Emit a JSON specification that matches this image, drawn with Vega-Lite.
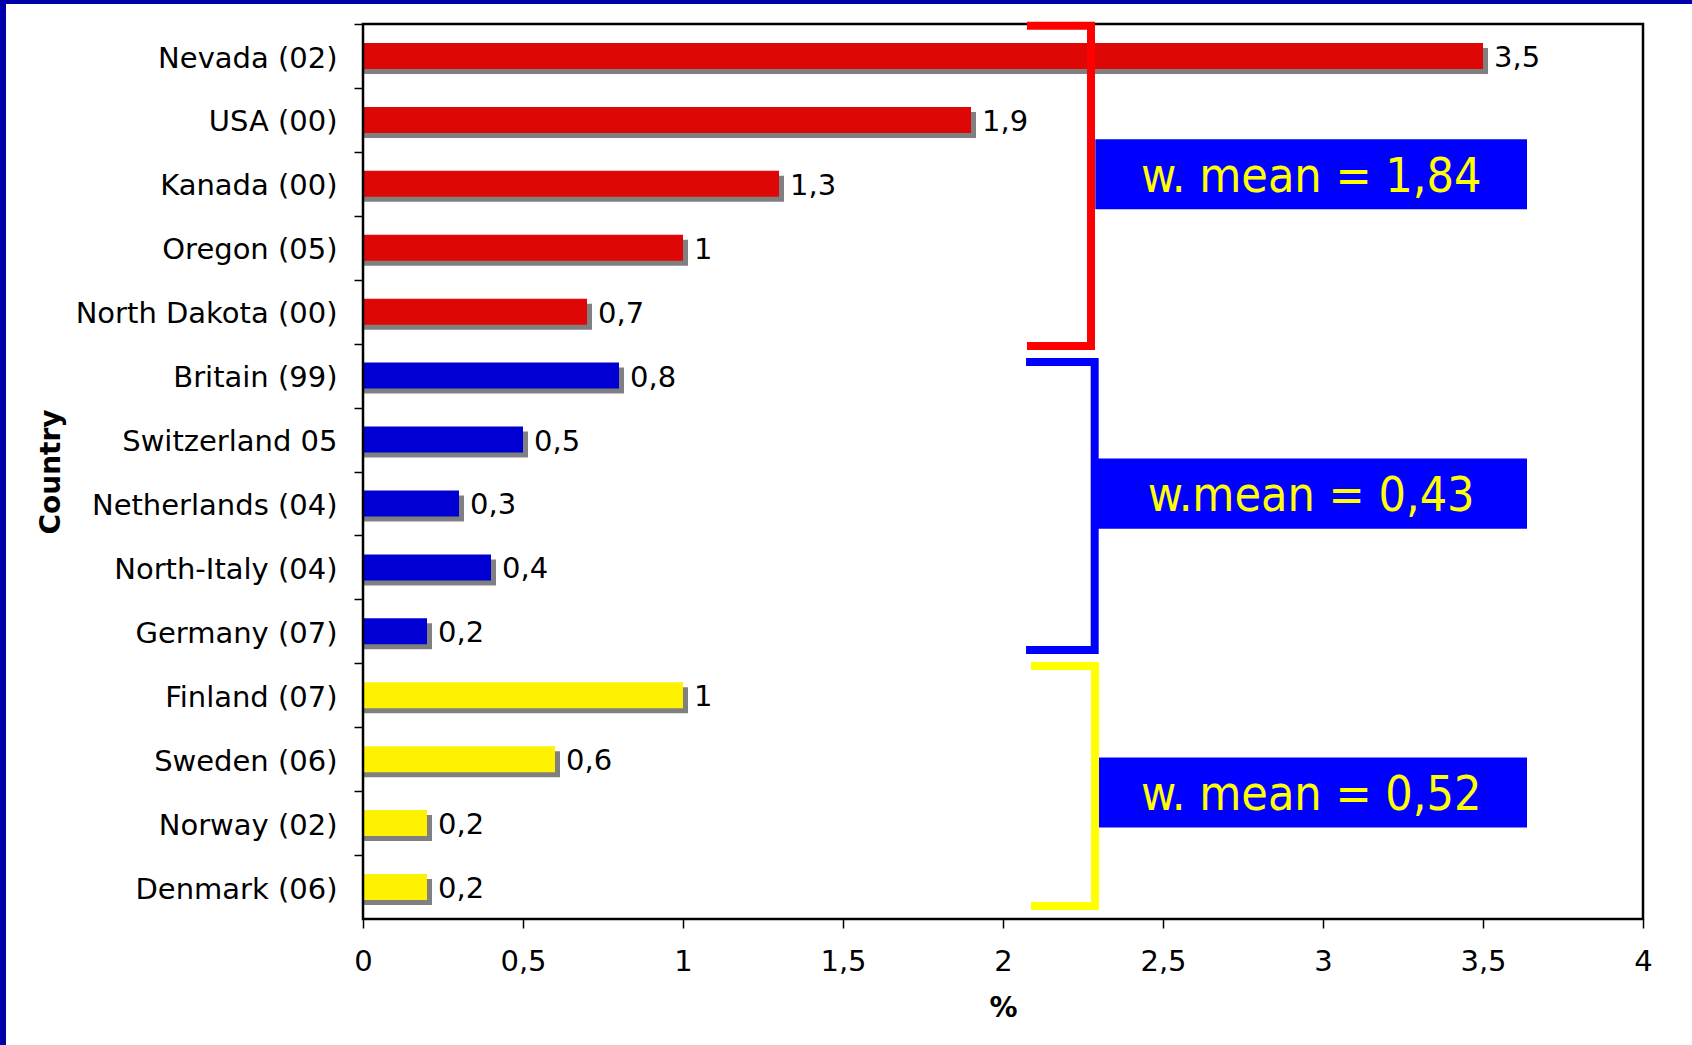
{
  "$schema": "https://vega.github.io/schema/vega-lite/v6.json",
  "autosize": {"type": "none"},
  "width": 1280,
  "height": 895,
  "padding": {"left": 363, "top": 24, "right": 49, "bottom": 126},
  "background": "#0000AA",
  "config": {
    "view": {"stroke": null},
    "locale": {
      "number": {"decimal": ",", "thousands": ".", "grouping": [3], "currency": ["", " €"]}
    },
    "axis": {
      "grid": false,
      "domain": false,
      "labelFont": "DejaVu Sans",
      "labelFontSize": 29,
      "labelColor": "black",
      "labelFlush": false,
      "titleFont": "DejaVu Sans",
      "titleFontSize": 28,
      "titleFontWeight": "bold",
      "titleColor": "black",
      "tickColor": "black",
      "tickWidth": 1.5,
      "tickSize": 9
    },
    "axisX": {
      "labelPadding": 33,
      "labelBaseline": "middle",
      "titleY": 89,
      "titleBaseline": "middle"
    },
    "text": {"font": "DejaVu Sans"}
  },
  "datasets": {
    "rates": [
      {"country": "Nevada (02)", "value": 3.5, "group": "NA"},
      {"country": "USA (00)", "value": 1.9, "group": "NA"},
      {"country": "Kanada (00)", "value": 1.3, "group": "NA"},
      {"country": "Oregon (05)", "value": 1, "group": "NA"},
      {"country": "North Dakota (00)", "value": 0.7, "group": "NA"},
      {"country": "Britain (99)", "value": 0.8, "group": "EU"},
      {"country": "Switzerland 05", "value": 0.5, "group": "EU"},
      {"country": "Netherlands (04)", "value": 0.3, "group": "EU"},
      {"country": "North-Italy (04)", "value": 0.4, "group": "EU"},
      {"country": "Germany (07)", "value": 0.2, "group": "EU"},
      {"country": "Finland (07)", "value": 1, "group": "Nordic"},
      {"country": "Sweden (06)", "value": 0.6, "group": "Nordic"},
      {"country": "Norway (02)", "value": 0.2, "group": "Nordic"},
      {"country": "Denmark (06)", "value": 0.2, "group": "Nordic"}
    ],
    "means": [
      {"x": 2.2885, "x2": 3.6375, "y": 1.802, "y2": 2.898, "tx": 2.963, "ty": 2.41, "label": "w. mean = 1,84"},
      {"x": 2.2885, "x2": 3.6375, "y": 6.798, "y2": 7.895, "tx": 2.963, "ty": 7.40, "label": "w.mean = 0,43"},
      {"x": 2.295, "x2": 3.6375, "y": 11.474, "y2": 12.57, "tx": 2.963, "ty": 12.08, "label": "w. mean = 0,52"}
    ],
    "brackets": [
      {"grp": "NA", "i": 0, "x": 2.075, "y": 0.027},
      {"grp": "NA", "i": 1, "x": 2.275, "y": 0.027},
      {"grp": "NA", "i": 2, "x": 2.275, "y": 5.037},
      {"grp": "NA", "i": 3, "x": 2.075, "y": 5.037},
      {"grp": "EU", "i": 0, "x": 2.072, "y": 5.287},
      {"grp": "EU", "i": 1, "x": 2.2865, "y": 5.287},
      {"grp": "EU", "i": 2, "x": 2.2865, "y": 9.792},
      {"grp": "EU", "i": 3, "x": 2.072, "y": 9.792},
      {"grp": "Nordic", "i": 0, "x": 2.0875, "y": 10.042},
      {"grp": "Nordic", "i": 1, "x": 2.2875, "y": 10.042},
      {"grp": "Nordic", "i": 2, "x": 2.2875, "y": 13.796},
      {"grp": "Nordic", "i": 3, "x": 2.0875, "y": 13.796}
    ]
  },
  "resolve": {"scale": {"y": "independent"}, "axis": {"y": "independent"}},
  "layer": [
    {
      "data": {"values": [{"x": -1.115625, "x2": 5, "y": -0.3128, "y2": 20}]},
      "mark": {"type": "rect", "fill": "white", "strokeWidth": 0},
      "encoding": {
        "x": {"field": "x", "type": "quantitative", "scale": {"domain": [0, 4], "nice": false, "zero": true},
              "axis": {"title": "%", "zindex": 2, "values": [0, 0.5, 1, 1.5, 2, 2.5, 3, 3.5, 4], "format": ".1~f"}},
        "x2": {"field": "x2"},
        "y": {"field": "y", "type": "quantitative", "scale": {"domain": [0, 14], "reverse": true, "nice": false, "zero": false}, "axis": null},
        "y2": {"field": "y2"}
      }
    },
    {
      "data": {"name": "rates"},
      "encoding": {
        "y": {
          "field": "country", "type": "nominal", "sort": null,
          "scale": {"paddingInner": 0.593, "paddingOuter": 0.2965},
          "axis": {
            "title": "Country",
            "zindex": 2,
            "tickOffset": -31.964,
            "labelOffset": 34,
            "labelPadding": 17,
            "labelLimit": 400,
            "titleX": -312,
            "titleY": 447.5,
            "titleAngle": 270,
            "titleAlign": "center",
            "titleBaseline": "middle"
          }
        }
      },
      "layer": [
        {
          "mark": {"type": "bar", "color": "#808080", "xOffset": 5, "x2Offset": 5, "yOffset": 5},
          "encoding": {
            "x": {"field": "value", "type": "quantitative", "stack": null, "scale": {"domain": [0, 4], "nice": false, "zero": true},
                  "axis": {"title": "%", "zindex": 2, "values": [0, 0.5, 1, 1.5, 2, 2.5, 3, 3.5, 4], "format": ".1~f"}}
          }
        },
        {
          "mark": {"type": "bar"},
          "encoding": {
            "x": {"field": "value", "type": "quantitative", "stack": null, "scale": {"domain": [0, 4], "nice": false, "zero": true},
                  "axis": {"title": "%", "zindex": 2, "values": [0, 0.5, 1, 1.5, 2, 2.5, 3, 3.5, 4], "format": ".1~f"}},
            "color": {
              "field": "group", "type": "nominal",
              "scale": {"domain": ["NA", "EU", "Nordic"], "range": ["#DD0806", "#0000D4", "#FFF200"]},
              "legend": null
            }
          }
        },
        {
          "mark": {"type": "text", "align": "left", "baseline": "middle", "dx": 11, "dy": 2, "fontSize": 29, "color": "black"},
          "encoding": {
            "x": {"field": "value", "type": "quantitative", "scale": {"domain": [0, 4], "nice": false, "zero": true},
                  "axis": {"title": "%", "zindex": 2, "values": [0, 0.5, 1, 1.5, 2, 2.5, 3, 3.5, 4], "format": ".1~f"}},
            "text": {"field": "value", "type": "quantitative", "format": ".1~f"}
          }
        }
      ]
    },
    {
      "encoding": {
        "y": {"type": "quantitative", "scale": {"domain": [0, 14], "reverse": true, "nice": false, "zero": false}, "axis": null}
      },
      "layer": [
        {
          "data": {"values": [{"x": 0, "x2": 4, "y": 0, "y2": 14}]},
          "mark": {"type": "rect", "filled": false, "stroke": "black", "strokeWidth": 2.5},
          "encoding": {
            "x": {"field": "x", "type": "quantitative", "scale": {"domain": [0, 4], "nice": false, "zero": true},
                  "axis": {"title": "%", "zindex": 2, "values": [0, 0.5, 1, 1.5, 2, 2.5, 3, 3.5, 4], "format": ".1~f"}},
            "x2": {"field": "x2"},
            "y": {"field": "y", "type": "quantitative", "scale": {"domain": [0, 14], "reverse": true, "nice": false, "zero": false}, "axis": null},
            "y2": {"field": "y2"}
          }
        },
        {
          "data": {"name": "means"},
          "mark": {"type": "rect", "fill": "#0000FF", "strokeWidth": 0},
          "encoding": {
            "x": {"field": "x", "type": "quantitative", "scale": {"domain": [0, 4], "nice": false, "zero": true},
                  "axis": {"title": "%", "zindex": 2, "values": [0, 0.5, 1, 1.5, 2, 2.5, 3, 3.5, 4], "format": ".1~f"}},
            "x2": {"field": "x2"},
            "y": {"field": "y", "type": "quantitative", "scale": {"domain": [0, 14], "reverse": true, "nice": false, "zero": false}, "axis": null},
            "y2": {"field": "y2"}
          }
        },
        {
          "data": {"name": "means"},
          "mark": {"type": "text", "font": "DejaVu Sans Condensed", "fontSize": 48, "color": "#FFFF00", "align": "center", "baseline": "middle"},
          "encoding": {
            "x": {"field": "tx", "type": "quantitative", "scale": {"domain": [0, 4], "nice": false, "zero": true},
                  "axis": {"title": "%", "zindex": 2, "values": [0, 0.5, 1, 1.5, 2, 2.5, 3, 3.5, 4], "format": ".1~f"}},
            "y": {"field": "ty", "type": "quantitative", "scale": {"domain": [0, 14], "reverse": true, "nice": false, "zero": false}, "axis": null},
            "text": {"field": "label"}
          }
        },
        {
          "data": {"name": "brackets"},
          "transform": [{"filter": "datum.grp === 'NA'"}],
          "mark": {"type": "line", "stroke": "#FF0000", "strokeWidth": 8, "strokeJoin": "miter", "strokeCap": "butt"},
          "encoding": {
            "x": {"field": "x", "type": "quantitative", "scale": {"domain": [0, 4], "nice": false, "zero": true},
                  "axis": {"title": "%", "zindex": 2, "values": [0, 0.5, 1, 1.5, 2, 2.5, 3, 3.5, 4], "format": ".1~f"}},
            "y": {"field": "y", "type": "quantitative", "scale": {"domain": [0, 14], "reverse": true, "nice": false, "zero": false}, "axis": null},
            "order": {"field": "i"}
          }
        },
        {
          "data": {"name": "brackets"},
          "transform": [{"filter": "datum.grp === 'EU'"}],
          "mark": {"type": "line", "stroke": "#0000FF", "strokeWidth": 8, "strokeJoin": "miter", "strokeCap": "butt"},
          "encoding": {
            "x": {"field": "x", "type": "quantitative", "scale": {"domain": [0, 4], "nice": false, "zero": true},
                  "axis": {"title": "%", "zindex": 2, "values": [0, 0.5, 1, 1.5, 2, 2.5, 3, 3.5, 4], "format": ".1~f"}},
            "y": {"field": "y", "type": "quantitative", "scale": {"domain": [0, 14], "reverse": true, "nice": false, "zero": false}, "axis": null},
            "order": {"field": "i"}
          }
        },
        {
          "data": {"name": "brackets"},
          "transform": [{"filter": "datum.grp === 'Nordic'"}],
          "mark": {"type": "line", "stroke": "#FFFF00", "strokeWidth": 8, "strokeJoin": "miter", "strokeCap": "butt"},
          "encoding": {
            "x": {"field": "x", "type": "quantitative", "scale": {"domain": [0, 4], "nice": false, "zero": true},
                  "axis": {"title": "%", "zindex": 2, "values": [0, 0.5, 1, 1.5, 2, 2.5, 3, 3.5, 4], "format": ".1~f"}},
            "y": {"field": "y", "type": "quantitative", "scale": {"domain": [0, 14], "reverse": true, "nice": false, "zero": false}, "axis": null},
            "order": {"field": "i"}
          }
        }
      ]
    }
  ]
}
